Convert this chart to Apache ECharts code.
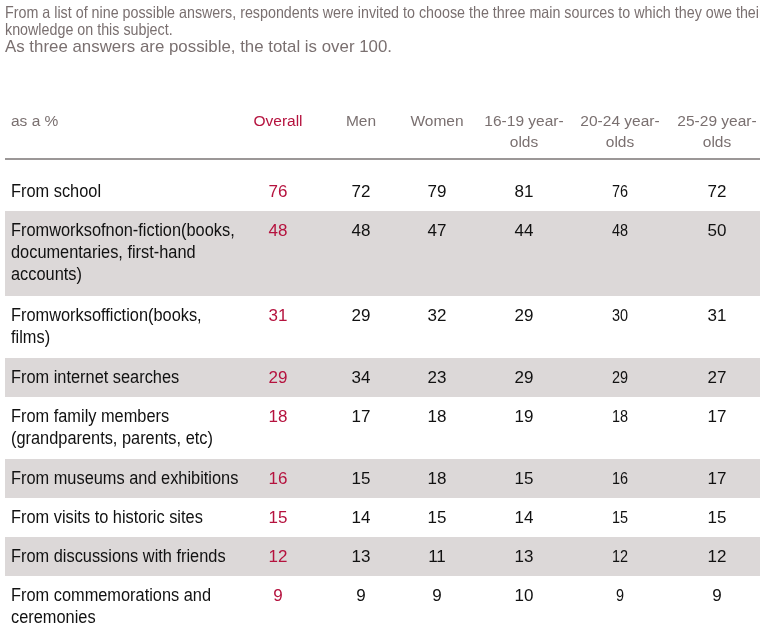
<!DOCTYPE html>
<html>
<head>
<meta charset="utf-8">
<script src="https://cdn.jsdelivr.net/npm/echarts@6/dist/echarts.min.js"></script>
<style>
html,body{margin:0;padding:0;background:#fff;}
#chart{width:760px;height:639px;}
</style>
</head>
<body>
<div id="chart"></div>
<script>
// ---- data ----
const noteLines = [
  'From a list of nine possible answers, respondents were invited to choose the three main sources to which they owe their',
  'knowledge on this subject.',
  'As three answers are possible, the total is over 100.'
];
const unitLabel = 'as a %';
const columnHeaders = ['Overall', 'Men', 'Women', '16-19 year-\nolds', '20-24 year-\nolds', '25-29 year-\nolds'];
const rowLabels = [
  'From school',
  'Fromworksofnon-fiction(books,\ndocumentaries, first-hand\naccounts)',
  'Fromworksoffiction(books,\nfilms)',
  'From internet searches',
  'From family members\n(grandparents, parents, etc)',
  'From museums and exhibitions',
  'From visits to historic sites',
  'From discussions with friends',
  'From commemorations and\nceremonies'
];
const overall  = [76, 48, 31, 29, 18, 16, 15, 12, 9];
const men      = [72, 48, 29, 34, 17, 15, 14, 13, 9];
const women    = [79, 47, 32, 23, 18, 18, 15, 11, 9];
const age16_19 = [81, 44, 29, 29, 19, 15, 14, 13, 10];
const age20_24 = [76, 48, 30, 29, 18, 16, 15, 12, 9];
const age25_29 = [72, 50, 31, 27, 17, 17, 15, 12, 9];
const seriesValues = [overall, men, women, age16_19, age20_24, age25_29];

// ---- layout / style ----
const W = 760;
const colX = [278, 361, 437, 524, 620, 717];
const labelX = 11;
const ruleX0 = 5;
const headerH = 59;
const firstGap = 13;
const rowBase = 16, rowLine = 23, textLine = 22, textOffset = 20;
const RED = '#b5123e', GRAY_TXT = '#7a7070', BAND = '#dcd8d8', RULE = '#7a7474';
const FONT = '"Liberation Sans", Arial, Helvetica, sans-serif';

// measure helper for condensing the note text to the reference widths
const mctx = document.createElement('canvas').getContext('2d');
function textW(s, size) { mctx.font = size + 'px "Liberation Sans", Arial, sans-serif'; return mctx.measureText(s).width; }
const noteScale1 = 754 / textW('From a list of nine possible answers, respondents were invited to choose the three main sources to which they owe thei', 16.5);
const noteScale3 = 387 / textW(noteLines[2], 17);

// row geometry in axis units
const rowTops = [], rowHeights = [];
let cur = headerH + firstGap;
rowLabels.forEach(l => {
  const n = l.split('\n').length;
  const h = rowBase + rowLine * n;
  rowTops.push(cur); rowHeights.push(h); cur += h;
});
const yMax = cur;

const chart = echarts.init(document.getElementById('chart'), null, {renderer: 'canvas'});

const bandData = rowLabels.map((l, i) => [rowTops[i], rowTops[i] + rowHeights[i], i]).filter(d => d[2] % 2 === 1);
const labelData = rowLabels.map((l, i) => [labelX, rowTops[i] + textOffset, l]);
const cellData = [];
seriesValues.forEach((arr, c) => arr.forEach((v, r) => cellData.push([colX[c], rowTops[r] + textOffset, v, c])));
const headerData = [[labelX, 22, unitLabel, -1]].concat(columnHeaders.map((h, c) => [colX[c], 22, h, c]));

const option = {
  animation: false,
  backgroundColor: '#fff',
  graphic: [
    {type: 'text', x: 5, y: 5, scaleX: noteScale1, silent: true,
      style: {text: noteLines[0], fill: GRAY_TXT, fontFamily: FONT, fontSize: 16.5, fontWeight: 'normal'}},
    {type: 'text', x: 5, y: 22, scaleX: noteScale1, silent: true,
      style: {text: noteLines[1], fill: GRAY_TXT, fontFamily: FONT, fontSize: 16.5, fontWeight: 'normal'}},
    {type: 'text', x: 5, y: 39, scaleX: noteScale3, silent: true,
      style: {text: noteLines[2], fill: GRAY_TXT, fontFamily: FONT, fontSize: 17, fontWeight: 'normal'}}
  ],
  grid: {left: 0, right: 0, top: 100, bottom: 639 - 100 - yMax},
  xAxis: {type: 'value', min: 0, max: W, show: false},
  yAxis: {type: 'value', min: 0, max: yMax, inverse: true, show: false},
  series: [
    {
      type: 'custom', name: 'bands', data: bandData, silent: true,
      renderItem: (params, api) => {
        const p0 = api.coord([ruleX0, api.value(0)]);
        const p1 = api.coord([W, api.value(1)]);
        return {type: 'rect', shape: {x: p0[0], y: p0[1], width: p1[0] - p0[0], height: p1[1] - p0[1]}, style: {fill: BAND}};
      }
    },
    {
      type: 'custom', name: 'rule', data: [[headerH]], silent: true,
      renderItem: (params, api) => {
        const p0 = api.coord([ruleX0, api.value(0)]);
        const p1 = api.coord([W, api.value(0)]);
        return {type: 'line', shape: {x1: p0[0], y1: p0[1], x2: p1[0], y2: p1[1]}, style: {stroke: RULE, lineWidth: 1.5}};
      }
    },
    {
      type: 'custom', name: 'headers', data: headerData, silent: true,
      renderItem: (params, api) => {
        const d = headerData[params.dataIndex];
        const p = api.coord([d[0], d[1]]);
        return {type: 'text', x: p[0], y: p[1] - 11, style: {
          text: d[2], fill: d[3] === 0 ? RED : GRAY_TXT, fontFamily: FONT, fontSize: 15.5,
          align: d[3] < 0 ? 'left' : 'center', verticalAlign: 'top', lineHeight: 21
        }};
      }
    },
    {
      type: 'custom', name: 'rowLabels', data: labelData, silent: true,
      renderItem: (params, api) => {
        const d = labelData[params.dataIndex];
        const p = api.coord([d[0], d[1]]);
        return {type: 'text', x: p[0], y: p[1] - 11, scaleX: 0.935, style: {
          text: d[2], fill: '#111', fontFamily: FONT, fontSize: 17.5,
          align: 'left', verticalAlign: 'top', lineHeight: textLine
        }};
      }
    },
    {
      type: 'custom', name: 'cells', data: cellData, silent: true,
      renderItem: (params, api) => {
        const d = cellData[params.dataIndex];
        const p = api.coord([d[0], d[1]]);
        return {type: 'text', x: p[0], y: p[1], scaleX: d[3] === 4 ? 0.85 : 1, style: {
          text: String(d[2]), fill: d[3] === 0 ? RED : '#111', fontFamily: FONT, fontSize: 17,
          align: 'center', verticalAlign: 'middle'
        }};
      }
    }
  ]
};
chart.setOption(option);
</script>
</body>
</html>
